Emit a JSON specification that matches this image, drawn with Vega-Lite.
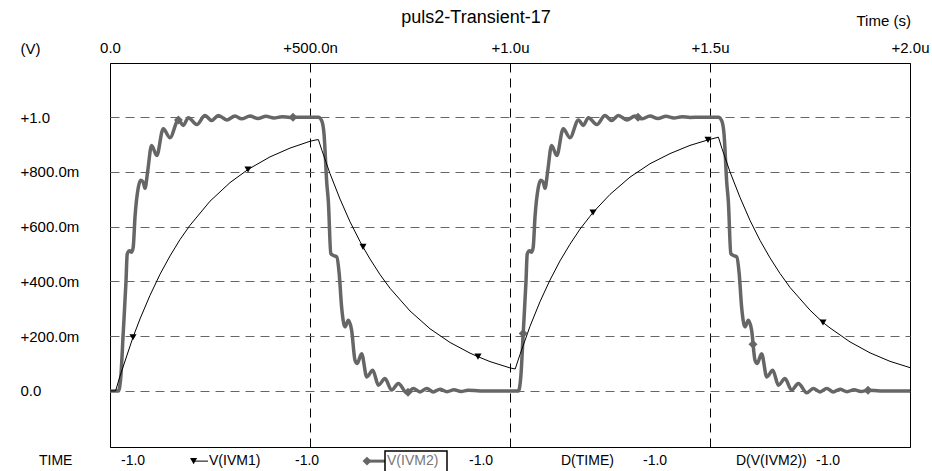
{
  "$schema": "https://vega.github.io/schema/vega-lite/v6.json",
  "width": 800,
  "height": 384,
  "autosize": {"type": "none"},
  "padding": {"left": 110, "top": 63, "right": 22, "bottom": 24},
  "background": "white",
  "config": {
    "font": "Liberation Sans",
    "view": {"stroke": "black", "strokeWidth": 1},
    "axis": {"labelFont": "Liberation Sans", "titleFont": "Liberation Sans", "labelColor": "black", "titleColor": "black"}
  },
  "title": {
    "text": "puls2-Transient-17",
    "fontSize": 18,
    "fontWeight": "normal",
    "font": "Liberation Sans",
    "color": "black",
    "anchor": "middle",
    "frame": "group",
    "dx": -34,
    "offset": -23,
    "baseline": "middle"
  },
  "datasets": {
    "ivm2": [
      {"t": 0, "v": 0}, {"t": 0.021, "v": 0}, {"t": 0.027, "v": 0.051}, {"t": 0.033, "v": 0.21}, {"t": 0.04, "v": 0.4}, {"t": 0.043, "v": 0.5}, {"t": 0.049, "v": 0.512}, {"t": 0.054, "v": 0.507}, {"t": 0.058, "v": 0.525}, {"t": 0.0625, "v": 0.635}, {"t": 0.071, "v": 0.745}, {"t": 0.077, "v": 0.77}, {"t": 0.083, "v": 0.763}, {"t": 0.0875, "v": 0.74}, {"t": 0.094, "v": 0.8}, {"t": 0.104, "v": 0.897}, {"t": 0.117, "v": 0.86}, {"t": 0.133, "v": 0.958}, {"t": 0.15, "v": 0.925}, {"t": 0.171, "v": 0.99}, {"t": 0.183, "v": 0.97}, {"t": 0.196, "v": 0.998}, {"t": 0.217, "v": 0.973}, {"t": 0.2375, "v": 1.006}, {"t": 0.254, "v": 0.988}, {"t": 0.271, "v": 1.006}, {"t": 0.292, "v": 0.99}, {"t": 0.3125, "v": 1.004}, {"t": 0.329, "v": 0.994}, {"t": 0.35, "v": 1.004}, {"t": 0.37, "v": 0.995}, {"t": 0.39, "v": 1.003}, {"t": 0.41, "v": 0.997}, {"t": 0.43, "v": 1.002}, {"t": 0.45, "v": 0.999}, {"t": 0.475, "v": 1.0}, {"t": 0.521, "v": 1.0}, {"t": 0.529, "v": 0.988}, {"t": 0.535, "v": 0.94}, {"t": 0.542, "v": 0.758}, {"t": 0.546, "v": 0.69}, {"t": 0.552, "v": 0.502}, {"t": 0.558, "v": 0.495}, {"t": 0.567, "v": 0.489}, {"t": 0.573, "v": 0.428}, {"t": 0.579, "v": 0.307}, {"t": 0.5875, "v": 0.234}, {"t": 0.596, "v": 0.258}, {"t": 0.604, "v": 0.222}, {"t": 0.6125, "v": 0.112}, {"t": 0.618, "v": 0.1}, {"t": 0.629, "v": 0.136}, {"t": 0.642, "v": 0.051}, {"t": 0.657, "v": 0.075}, {"t": 0.671, "v": 0.021}, {"t": 0.6875, "v": 0.045}, {"t": 0.704, "v": 0.003}, {"t": 0.721, "v": 0.027}, {"t": 0.742, "v": -0.007}, {"t": 0.758, "v": 0.009}, {"t": 0.775, "v": -0.004}, {"t": 0.792, "v": 0.009}, {"t": 0.808, "v": -0.004}, {"t": 0.825, "v": 0.006}, {"t": 0.8425, "v": -0.003}, {"t": 0.86, "v": 0.004}, {"t": 0.8775, "v": -0.002}, {"t": 0.895, "v": 0.002}, {"t": 0.925, "v": 0},
      {"t": 1.0, "v": 0}, {"t": 1.021, "v": 0}, {"t": 1.027, "v": 0.051}, {"t": 1.033, "v": 0.21}, {"t": 1.04, "v": 0.4}, {"t": 1.043, "v": 0.5}, {"t": 1.049, "v": 0.512}, {"t": 1.054, "v": 0.507}, {"t": 1.058, "v": 0.525}, {"t": 1.0625, "v": 0.635}, {"t": 1.071, "v": 0.745}, {"t": 1.077, "v": 0.77}, {"t": 1.083, "v": 0.763}, {"t": 1.0875, "v": 0.74}, {"t": 1.094, "v": 0.8}, {"t": 1.104, "v": 0.897}, {"t": 1.117, "v": 0.86}, {"t": 1.133, "v": 0.958}, {"t": 1.15, "v": 0.925}, {"t": 1.171, "v": 0.99}, {"t": 1.183, "v": 0.97}, {"t": 1.196, "v": 0.998}, {"t": 1.217, "v": 0.973}, {"t": 1.2375, "v": 1.006}, {"t": 1.254, "v": 0.988}, {"t": 1.271, "v": 1.006}, {"t": 1.292, "v": 0.99}, {"t": 1.3125, "v": 1.004}, {"t": 1.329, "v": 0.994}, {"t": 1.35, "v": 1.004}, {"t": 1.37, "v": 0.995}, {"t": 1.39, "v": 1.003}, {"t": 1.41, "v": 0.997}, {"t": 1.43, "v": 1.002}, {"t": 1.45, "v": 0.999}, {"t": 1.475, "v": 1.0}, {"t": 1.521, "v": 1.0}, {"t": 1.529, "v": 0.988}, {"t": 1.535, "v": 0.94}, {"t": 1.542, "v": 0.758}, {"t": 1.546, "v": 0.69}, {"t": 1.552, "v": 0.502}, {"t": 1.558, "v": 0.495}, {"t": 1.567, "v": 0.489}, {"t": 1.573, "v": 0.428}, {"t": 1.579, "v": 0.307}, {"t": 1.5875, "v": 0.234}, {"t": 1.596, "v": 0.258}, {"t": 1.604, "v": 0.222}, {"t": 1.6125, "v": 0.112}, {"t": 1.618, "v": 0.1}, {"t": 1.629, "v": 0.136}, {"t": 1.642, "v": 0.051}, {"t": 1.657, "v": 0.075}, {"t": 1.671, "v": 0.021}, {"t": 1.6875, "v": 0.045}, {"t": 1.704, "v": 0.003}, {"t": 1.721, "v": 0.027}, {"t": 1.742, "v": -0.007}, {"t": 1.758, "v": 0.009}, {"t": 1.775, "v": -0.004}, {"t": 1.792, "v": 0.009}, {"t": 1.808, "v": -0.004}, {"t": 1.825, "v": 0.006}, {"t": 1.8425, "v": -0.003}, {"t": 1.86, "v": 0.004}, {"t": 1.8775, "v": -0.002}, {"t": 1.895, "v": 0.002}, {"t": 1.925, "v": 0}, {"t": 2.0, "v": 0}
    ],
    "ivm2marks": [
      {"t": 0.171, "v": 0.99}, {"t": 0.4575, "v": 1.0}, {"t": 0.745, "v": -0.005}, {"t": 1.033, "v": 0.21}, {"t": 1.32, "v": 1.0}, {"t": 1.6075, "v": 0.17}, {"t": 1.895, "v": 0.002}
    ],
    "ivm1": [
      {"t": 0, "v": 0}, {"t": 0.014, "v": 0}, {"t": 0.025, "v": 0.054}, {"t": 0.0575, "v": 0.196}, {"t": 0.075, "v": 0.263}, {"t": 0.1, "v": 0.349}, {"t": 0.125, "v": 0.426}, {"t": 0.15, "v": 0.493}, {"t": 0.175, "v": 0.553}, {"t": 0.2, "v": 0.605}, {"t": 0.25, "v": 0.693}, {"t": 0.3, "v": 0.761}, {"t": 0.345, "v": 0.809}, {"t": 0.4, "v": 0.855}, {"t": 0.45, "v": 0.887}, {"t": 0.5, "v": 0.912}, {"t": 0.515, "v": 0.917}, {"t": 0.521, "v": 0.918},
      {"t": 0.53, "v": 0.878}, {"t": 0.55, "v": 0.794}, {"t": 0.575, "v": 0.701}, {"t": 0.6, "v": 0.618}, {"t": 0.625, "v": 0.546}, {"t": 0.6325, "v": 0.526}, {"t": 0.65, "v": 0.482}, {"t": 0.675, "v": 0.425}, {"t": 0.7, "v": 0.375}, {"t": 0.75, "v": 0.292}, {"t": 0.8, "v": 0.227}, {"t": 0.85, "v": 0.177}, {"t": 0.9, "v": 0.138}, {"t": 0.92, "v": 0.125}, {"t": 0.95, "v": 0.107}, {"t": 1.0, "v": 0.084}, {"t": 1.013, "v": 0.08},
      {"t": 1.025, "v": 0.133}, {"t": 1.05, "v": 0.236}, {"t": 1.075, "v": 0.326}, {"t": 1.1, "v": 0.405}, {"t": 1.125, "v": 0.475}, {"t": 1.15, "v": 0.536}, {"t": 1.175, "v": 0.591}, {"t": 1.2, "v": 0.638}, {"t": 1.2075, "v": 0.652}, {"t": 1.25, "v": 0.718}, {"t": 1.3, "v": 0.781}, {"t": 1.35, "v": 0.83}, {"t": 1.4, "v": 0.867}, {"t": 1.45, "v": 0.897}, {"t": 1.495, "v": 0.917}, {"t": 1.5, "v": 0.919}, {"t": 1.521, "v": 0.927},
      {"t": 1.53, "v": 0.885}, {"t": 1.55, "v": 0.8}, {"t": 1.575, "v": 0.707}, {"t": 1.6, "v": 0.623}, {"t": 1.625, "v": 0.55}, {"t": 1.65, "v": 0.486}, {"t": 1.675, "v": 0.429}, {"t": 1.7, "v": 0.378}, {"t": 1.75, "v": 0.295}, {"t": 1.7825, "v": 0.25}, {"t": 1.8, "v": 0.23}, {"t": 1.85, "v": 0.179}, {"t": 1.9, "v": 0.139}, {"t": 1.95, "v": 0.108}, {"t": 2.0, "v": 0.085}
    ],
    "ivm1marks": [
      {"t": 0.0575, "v": 0.196}, {"t": 0.345, "v": 0.809}, {"t": 0.6325, "v": 0.526}, {"t": 0.92, "v": 0.125}, {"t": 1.2075, "v": 0.652}, {"t": 1.495, "v": 0.917}, {"t": 1.7825, "v": 0.25}
    ],
    "legendtext": [
      {"t": -0.1775, "v": -0.2566, "label": "TIME"},
      {"t": 0.0275, "v": -0.2566, "label": "-1.0"},
      {"t": 0.2475, "v": -0.2566, "label": "V(IVM1)"},
      {"t": 0.4625, "v": -0.2566, "label": "-1.0"},
      {"t": 0.6925, "v": -0.2566, "label": "V(IVM2)"},
      {"t": 0.8975, "v": -0.2566, "label": "-1.0"},
      {"t": 1.1275, "v": -0.2566, "label": "D(TIME)"},
      {"t": 1.3325, "v": -0.2566, "label": "-1.0"},
      {"t": 1.565, "v": -0.2566, "label": "D(V(IVM2))"},
      {"t": 1.765, "v": -0.2566, "label": "-1.0"}
    ],
    "legendline1": [{"t": 0.209, "t2": 0.245, "v": -0.2566}],
    "legendline2": [{"t": 0.6425, "t2": 0.6875, "v": -0.2566}],
    "legendsym1": [{"t": 0.209, "v": -0.2566}],
    "legendsym2": [{"t": 0.6425, "v": -0.2566}],
    "legendbox": [{"t": 0.6875, "t2": 0.8425, "v": -0.22, "v2": -0.33}]
  },
  "layer": [
    {
      "data": {"name": "ivm2"},
      "mark": {"type": "line", "color": "#666666", "strokeWidth": 3.5, "interpolate": "monotone"},
      "encoding": {
        "x": {
          "field": "t", "type": "quantitative",
          "scale": {"domain": [0, 2], "nice": false, "zero": false},
          "axis": {
            "orient": "top", "values": [0, 0.5, 1, 1.5, 2], "domain": false, "ticks": false,
            "grid": true, "gridColor": "black", "gridDash": [9, 6], "gridWidth": 1,
            "labelPadding": 16, "labelBaseline": "middle", "labelFontSize": 15, "labelFlush": false, "labelOverlap": false, "labelBound": false,
            "labelExpr": "datum.value == 0 ? '0.0' : (datum.value < 0.999 ? '+' + format(datum.value * 1000, '.1f') + 'n' : '+' + format(datum.value, '.1f') + 'u')",
            "title": "Time   (s)", "titleX": 746, "titleY": -43, "titleAlign": "left", "titleAnchor": null, "titleBaseline": "middle", "titleFontSize": 15, "titleFontWeight": "normal", "titleAngle": 0
          }
        },
        "y": {
          "field": "v", "type": "quantitative",
          "scale": {"domain": [-0.205, 1.198], "nice": false, "zero": false},
          "axis": {
            "orient": "left", "values": [0, 0.2, 0.4, 0.6, 0.8, 1.0], "domain": false,
            "grid": true, "gridColor": "#666666", "gridDash": [9, 6], "gridWidth": 1,
            "ticks": true, "tickSize": -8, "tickColor": "#666666", "tickWidth": 1,
            "labelPadding": 98, "labelAlign": "left", "labelBaseline": "middle", "labelFontSize": 15,
            "labelExpr": "datum.value == 0 ? '0.0' : (datum.value >= 0.999 ? '+' + format(datum.value, '.1f') : '+' + format(datum.value * 1000, '.1f') + 'm')",
            "title": "(V)", "titleAngle": 0, "titleAlign": "left", "titleBaseline": "middle", "titleX": -90, "titleY": -15, "titleFontSize": 15, "titleFontWeight": "normal"
          }
        }
      }
    },
    {
      "data": {"name": "ivm1"},
      "mark": {"type": "line", "color": "black", "strokeWidth": 1},
      "encoding": {
        "x": {"field": "t", "type": "quantitative"},
        "y": {"field": "v", "type": "quantitative"}
      }
    },
    {
      "data": {"name": "ivm2marks"},
      "mark": {"type": "point", "shape": "diamond", "filled": true, "color": "#666666", "size": 80, "opacity": 1},
      "encoding": {
        "x": {"field": "t", "type": "quantitative"},
        "y": {"field": "v", "type": "quantitative"}
      }
    },
    {
      "data": {"name": "ivm1marks"},
      "mark": {"type": "point", "shape": "triangle-down", "filled": true, "color": "black", "size": 50, "opacity": 1},
      "encoding": {
        "x": {"field": "t", "type": "quantitative"},
        "y": {"field": "v", "type": "quantitative"}
      }
    },
    {
      "data": {"name": "legendtext"},
      "mark": {"type": "text", "align": "left", "baseline": "middle", "fontSize": 14, "font": "Liberation Sans"},
      "encoding": {
        "x": {"field": "t", "type": "quantitative"},
        "y": {"field": "v", "type": "quantitative"},
        "text": {"field": "label"},
        "color": {"condition": {"test": "datum.label === 'V(IVM2)'", "value": "#777777"}, "value": "black"}
      }
    },
    {
      "data": {"name": "legendline1"},
      "mark": {"type": "rule", "color": "black", "strokeWidth": 1},
      "encoding": {
        "x": {"field": "t", "type": "quantitative"},
        "x2": {"field": "t2"},
        "y": {"field": "v", "type": "quantitative"}
      }
    },
    {
      "data": {"name": "legendline2"},
      "mark": {"type": "rule", "color": "#666666", "strokeWidth": 3},
      "encoding": {
        "x": {"field": "t", "type": "quantitative"},
        "x2": {"field": "t2"},
        "y": {"field": "v", "type": "quantitative"}
      }
    },
    {
      "data": {"name": "legendsym1"},
      "mark": {"type": "point", "shape": "triangle-down", "filled": true, "color": "black", "size": 50, "opacity": 1},
      "encoding": {
        "x": {"field": "t", "type": "quantitative"},
        "y": {"field": "v", "type": "quantitative"}
      }
    },
    {
      "data": {"name": "legendsym2"},
      "mark": {"type": "point", "shape": "diamond", "filled": true, "color": "#666666", "size": 80, "opacity": 1},
      "encoding": {
        "x": {"field": "t", "type": "quantitative"},
        "y": {"field": "v", "type": "quantitative"}
      }
    },
    {
      "data": {"name": "legendbox"},
      "mark": {"type": "rect", "fill": null, "fillOpacity": 0, "stroke": "black", "strokeWidth": 1.5},
      "encoding": {
        "x": {"field": "t", "type": "quantitative"},
        "x2": {"field": "t2"},
        "y": {"field": "v", "type": "quantitative"},
        "y2": {"field": "v2"}
      }
    }
  ]
}
